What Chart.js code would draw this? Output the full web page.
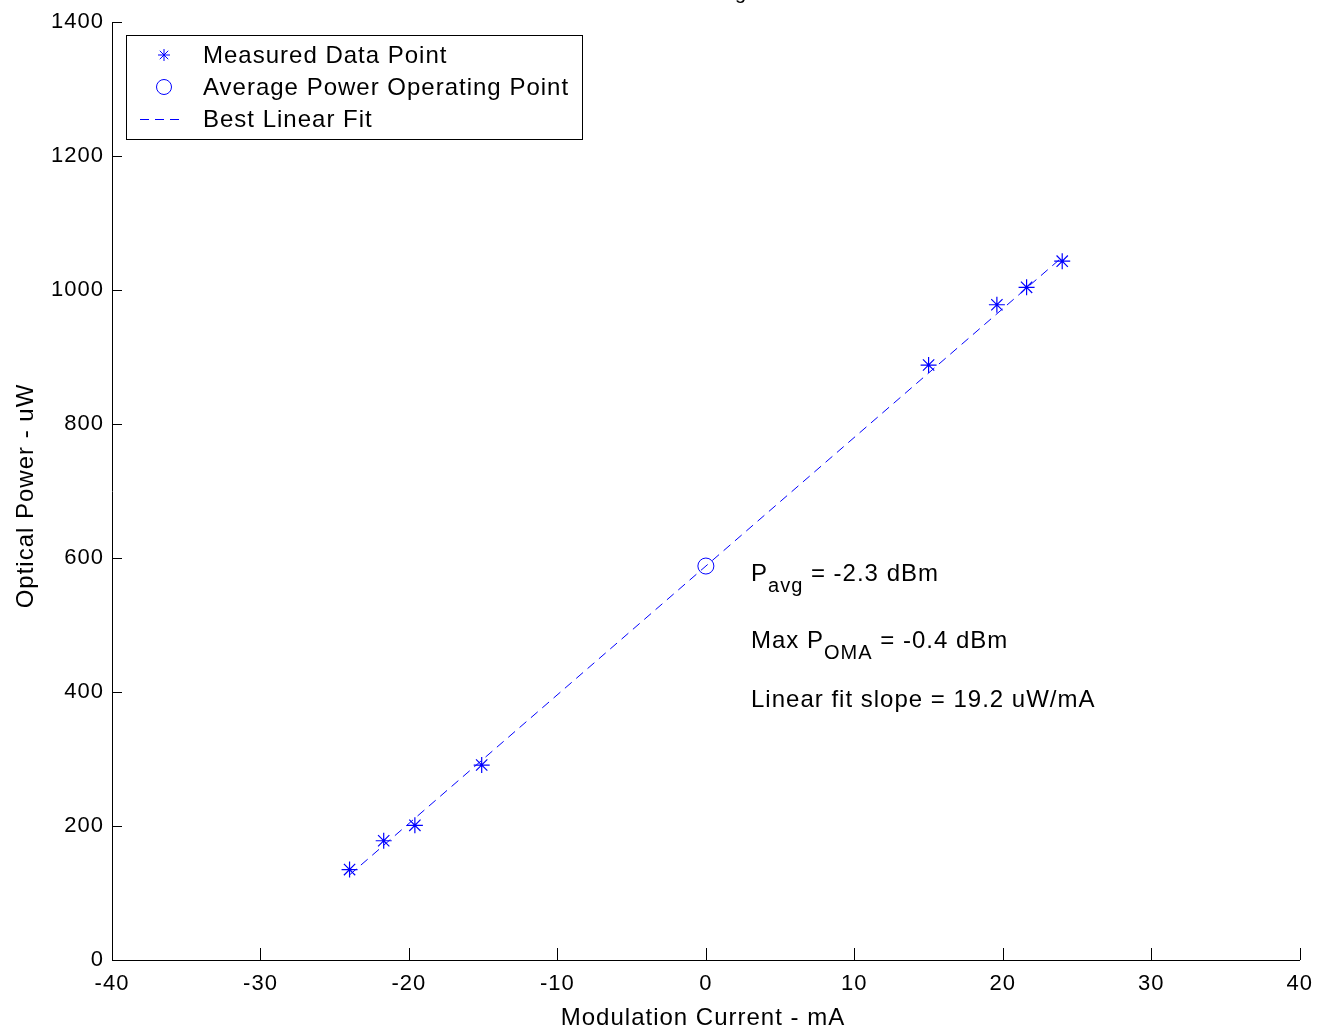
<!DOCTYPE html>
<html>
<head>
<meta charset="utf-8">
<script src="https://cdn.jsdelivr.net/npm/chart.js@4.4.0/dist/chart.umd.min.js"></script>
<style>
body { margin: 0; background: #fff; }
canvas { display: block; }
</style>
</head>
<body>
<canvas id="chart" width="1323" height="1031"></canvas>
<script>
//測定データ
var measuredX = [-24, -21.7, -19.6, -15.1, 15.0, 19.6, 21.6, 24.0];
var measuredY = [135, 178, 201, 291, 888, 978, 1004, 1043];
//平均パワー動作点
var avgX = [0];
var avgY = [588];
//直線近似の端点
var fitX = [-24, 24];
var fitY = [127, 1049];
//目盛
var xTicks = [-40, -30, -20, -10, 0, 10, 20, 30, 40];
var yTicks = [0, 200, 400, 600, 800, 1000, 1200, 1400];
//凡例
var legendLabels = ["Measured Data Point", "Average Power Operating Point", "Best Linear Fit"];

var FONT = '"Liberation Sans", Arial, Helvetica, sans-serif';
var BLUE = '#0000ff';

var toPoints = function(xs, ys) {
    return xs.map(function(x, i) { return { x: x, y: ys[i] }; });
};

var drawStar = function(ctx, x, y, r) {
    var d = r * Math.SQRT1_2;
    ctx.beginPath();
    ctx.moveTo(x - r, y); ctx.lineTo(x + r, y);
    ctx.moveTo(x, y - r); ctx.lineTo(x, y + r);
    ctx.moveTo(x - d, y - d); ctx.lineTo(x + d, y + d);
    ctx.moveTo(x - d, y + d); ctx.lineTo(x + d, y - d);
    ctx.stroke();
};

//文字描画（下付き文字あり）
var drawParts = function(ctx, x, y, parts) {
    parts.forEach(function(p) {
        ctx.font = (p.sub ? '20px ' : '24px ') + FONT;
        ctx.fillText(p.t, x, p.sub ? y + 11 : y);
        x += ctx.measureText(p.t).width;
    });
};

var spacingPlugin = {
    id: 'spacing',
    beforeDraw: function(chart) {
        chart.ctx.letterSpacing = '1px';
    }
};

var decoPlugin = {
    id: 'deco',
    afterDraw: function(chart) {
        var ctx = chart.ctx;
        var xs = chart.scales.x, ys = chart.scales.y;
        var area = chart.chartArea;
        ctx.save();
        ctx.letterSpacing = '1px';

        //内向きの目盛線
        ctx.strokeStyle = '#000';
        ctx.lineWidth = 1;
        ctx.beginPath();
        xTicks.forEach(function(v) {
            var px = Math.round(xs.getPixelForValue(v)) + 0.5;
            ctx.moveTo(px, area.bottom);
            ctx.lineTo(px, area.bottom - 12);
        });
        yTicks.forEach(function(v) {
            var py = Math.round(ys.getPixelForValue(v)) + 0.5;
            ctx.moveTo(area.left, py);
            ctx.lineTo(area.left + 10, py);
        });
        ctx.stroke();

        //軸タイトル
        ctx.fillStyle = '#000';
        ctx.font = '24px ' + FONT;
        ctx.textAlign = 'center';
        ctx.textBaseline = 'alphabetic';
        ctx.fillText('Modulation Current - mA', 703, 1025);
        ctx.save();
        ctx.translate(33, 496);
        ctx.rotate(-Math.PI / 2);
        ctx.fillText('Optical Power - uW', 0, 0);
        ctx.restore();

        //上部のタイトル（切れている部分）
        ctx.textAlign = 'left';
        ctx.font = '20px ' + FONT;
        ctx.fillText('avg', 712, -1);

        //凡例
        ctx.strokeStyle = '#000';
        ctx.strokeRect(126.5, 35.5, 456, 104);
        ctx.font = '24px ' + FONT;
        ctx.textBaseline = 'middle';
        var rows = [55, 87, 119];
        legendLabels.forEach(function(label, i) {
            ctx.fillStyle = '#000';
            ctx.fillText(label, 203, rows[i] + 1);
        });
        ctx.strokeStyle = BLUE;
        ctx.lineWidth = 1;
        drawStar(ctx, 164, rows[0], 6);
        ctx.beginPath();
        ctx.arc(164, rows[1], 7.5, 0, Math.PI * 2);
        ctx.stroke();
        ctx.setLineDash([9, 6]);
        ctx.beginPath();
        ctx.moveTo(140, rows[2] + 0.5);
        ctx.lineTo(180, rows[2] + 0.5);
        ctx.stroke();
        ctx.setLineDash([]);

        //注記
        ctx.fillStyle = '#000';
        ctx.textBaseline = 'alphabetic';
        drawParts(ctx, 751, 581, [{ t: 'P' }, { t: 'avg', sub: true }, { t: ' = -2.3 dBm' }]);
        drawParts(ctx, 751, 648, [{ t: 'Max P' }, { t: 'OMA', sub: true }, { t: ' = -0.4 dBm' }]);
        drawParts(ctx, 751, 707, [{ t: 'Linear fit slope = 19.2 uW/mA' }]);
        ctx.restore();
    }
};

var ctx = document.getElementById('chart').getContext('2d');
var chart = new Chart(ctx, {
    type: 'scatter',
    data: {
        datasets: [{
            label: legendLabels[2],
            data: toPoints(fitX, fitY),
            showLine: true,
            borderColor: BLUE,
            borderWidth: 1,
            borderDash: [9, 6],
            pointRadius: 0,
            fill: false
        }, {
            label: legendLabels[0],
            data: toPoints(measuredX, measuredY),
            pointStyle: 'star',
            pointRadius: 8,
            pointBorderColor: BLUE,
            pointBorderWidth: 1.2,
            pointBackgroundColor: BLUE
        }, {
            label: legendLabels[1],
            data: toPoints(avgX, avgY),
            pointStyle: 'circle',
            pointRadius: 8,
            pointBorderColor: BLUE,
            pointBorderWidth: 1,
            pointBackgroundColor: 'rgba(0,0,0,0)'
        }]
    },
    options: {
        responsive: false,
        animation: false,
        devicePixelRatio: 1,
        layout: { padding: { top: 22, right: 19, left: 0, bottom: 0 } },
        plugins: {
            legend: { display: false },
            tooltip: { enabled: false },
            title: { display: false }
        },
        scales: {
            x: {
                type: 'linear',
                min: -40,
                max: 40,
                afterBuildTicks: function(scale) {
                    scale.ticks = xTicks.map(function(v) { return { value: v }; });
                },
                afterFit: function(scale) { scale.height = 71; },
                grid: { display: false, drawTicks: false },
                border: { display: true, color: '#000', width: 1 },
                ticks: {
                    color: '#000',
                    padding: 11,
                    maxRotation: 0,
                    autoSkip: false,
                    callback: function(v) { return String(v); },
                    font: { family: FONT, size: 22 }
                }
            },
            y: {
                type: 'linear',
                min: 0,
                max: 1400,
                afterBuildTicks: function(scale) {
                    scale.ticks = yTicks.map(function(v) { return { value: v }; });
                },
                afterFit: function(scale) { scale.width = 112; },
                grid: { display: false, drawTicks: false },
                border: { display: true, color: '#000', width: 1 },
                ticks: {
                    color: '#000',
                    padding: 8,
                    autoSkip: false,
                    callback: function(v) { return String(v); },
                    font: { family: FONT, size: 22 }
                }
            }
        }
    },
    plugins: [spacingPlugin, decoPlugin]
});
</script>
</body>
</html>
